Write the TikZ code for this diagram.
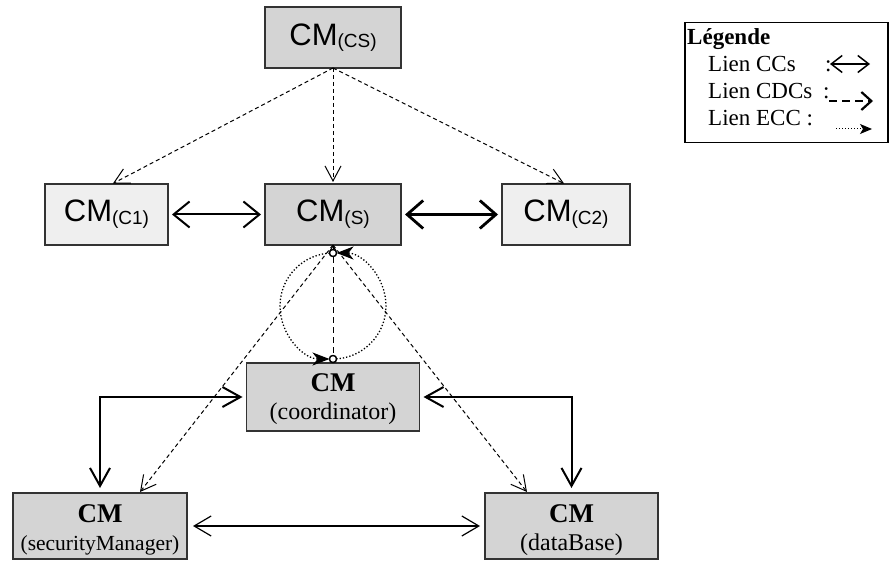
\documentclass[tikz,border=0pt]{standalone}
\usepackage{fontspec}
\setmainfont{Liberation Serif}
\newfontfamily\arialf{Liberation Sans}
\usetikzlibrary{arrows.meta,calc}
\definecolor{boxdark}{HTML}{D4D4D4}
\definecolor{boxlight}{HTML}{EFEFEF}
\definecolor{edgecol}{HTML}{333333}
\begin{document}
\begin{tikzpicture}[x=1pt,y=-1pt,
  box/.style={draw=edgecol, line width=1.2pt, rectangle, inner sep=0pt, outer sep=0pt},
  darkbox/.style={box, fill=boxdark},
  lightbox/.style={box, fill=boxlight},
  arialtxt/.style={font=\arialf\fontsize{31}{36}\selectfont},
  boldcm/.style={font=\fontsize{27}{28}\selectfont\bfseries, anchor=base, inner sep=0pt},
  partxt/.style={font=\fontsize{24}{28}\selectfont, anchor=base, inner sep=0pt},
  legtxt/.style={font=\fontsize{23}{26}\selectfont, anchor=base west, inner sep=0pt},
  cclink/.style={line width=2pt, {Straight Barb[length=16pt,width=26pt]}-{Straight Barb[length=16pt,width=26pt]}},
  cclinkthick/.style={line width=2.8pt, {Straight Barb[length=16pt,width=28pt]}-{Straight Barb[length=16pt,width=28pt]}},
  looplink/.style={line width=2pt, {Straight Barb[length=18pt,width=20pt]}-{Straight Barb[length=18pt,width=20pt]}},
  thinlink/.style={line width=1.2pt, {Straight Barb[length=17pt,width=20pt]}-{Straight Barb[length=17pt,width=20pt]}},
  cdclink/.style={line width=1pt, dash pattern=on 4pt off 3pt, -{Straight Barb[length=15pt,width=16pt]}},
  ecclink/.style={line width=1.3pt, dotted, -{Stealth[length=17pt,width=13pt,inset=5pt]}},
  eccend/.style={circle, draw=black, fill=white, line width=1.3pt, inner sep=0pt, minimum size=7pt}
]
\useasboundingbox (0,0) rectangle (895,561);

% boxes
\node[darkbox, arialtxt, minimum width=136pt, minimum height=61pt] (CS) at (333,37.5)
  {CM\raisebox{-2pt}{\fontsize{19}{19}\selectfont(CS)}};
\node[lightbox, arialtxt, minimum width=123pt, minimum height=61pt] (C1) at (106.5,214.5)
  {CM\raisebox{-3pt}{\fontsize{19}{19}\selectfont(C1)}};
\node[darkbox, arialtxt, minimum width=136pt, minimum height=61pt] (S) at (333,214.5)
  {CM\raisebox{-3pt}{\fontsize{19}{19}\selectfont(S)}};
\node[lightbox, arialtxt, minimum width=128pt, minimum height=61pt] (C2) at (566,214.5)
  {CM\raisebox{-3pt}{\fontsize{19}{19}\selectfont(C2)}};

\node[darkbox, minimum width=173pt, minimum height=68pt] (coord) at (333,397) {};
\node[boldcm] (coordA) at (333,392) {CM};
\node[partxt] (coordB) at (333,420) {(coordinator)};

\node[darkbox, minimum width=174pt, minimum height=66pt] (SM) at (100,526) {};
\node[boldcm] (SMA) at (100,522) {CM};
\node[partxt, font=\fontsize{21.5}{28}\selectfont] (SMB) at (100,550) {(securityManager)};

\node[darkbox, minimum width=173pt, minimum height=66pt] (DB) at (571.5,526) {};
\node[boldcm] (DBA) at (571.5,522) {CM};
\node[partxt] (DBB) at (571.5,550) {(dataBase)};

% coordinates for connector ends
\coordinate (c1t) at (112,184);
\coordinate (c2t) at (565,184);
\coordinate (sb) at (333,245);
\coordinate (smt) at (140,492);
\coordinate (dbt) at (527,492);

% CDC links from CS
\draw[cdclink, shorten >=1pt] (CS.south) -- (c1t);
\draw[cdclink, shorten >=2pt] (CS.south) -- (S.north);
\draw[cdclink, shorten >=1pt] (CS.south) -- (c2t);

% CC links top row
\draw[cclink, shorten <=4pt, shorten >=4pt] (C1.east) -- (S.west);
\draw[cclinkthick, shorten <=4pt, shorten >=4pt] (S.east) -- (C2.west);

% CDC links from S
\draw[cdclink] (sb) -- (smt);
\draw[cdclink] (sb) -- (dbt);
\draw[line width=1pt, dash pattern=on 6pt off 4pt, -{Straight Barb[length=5pt,width=6pt]}] (coord.north) -- (S.south);

% ECC loop
\node[eccend] (eccT) at (333,253) {};
\node[eccend] (eccB) at (333,359) {};
\draw[ecclink, shorten >=3.5pt] (eccB.center) arc[start angle=-90, end angle=90, radius=53pt];
\draw[ecclink, shorten >=3.5pt] (eccT.center) arc[start angle=90, end angle=270, radius=53pt];
\node[eccend] at (eccT) {};
\node[eccend] at (eccB) {};

% CC links around coordinator
\draw[looplink, shorten <=4pt, shorten >=5pt] (coord.west) -| (SM.north);
\draw[looplink, shorten <=4pt, shorten >=5pt] (coord.east) -| (DB.north);
\draw[thinlink, shorten <=6pt, shorten >=5pt] (SM.east) -- (DB.west);

% legend
\node[draw=black, line width=1.6pt, rectangle, inner sep=0pt, minimum width=203pt, minimum height=120pt] (leg) at (786.5,82.5) {};
\node[legtxt, font=\fontsize{23}{26}\selectfont\bfseries] (legT) at (687,45) {Légende};
\node[legtxt] (l1) at (708,72) {Lien CCs};
\node[legtxt] (l1c) at (825,72) {:};
\node[legtxt] (l2) at (708,99) {Lien CDCs};
\node[legtxt] (l2c) at (823,99) {:};
\node[legtxt] (l3) at (708,126) {Lien ECC :};
\coordinate (a1s) at (830,64);
\coordinate (a1e) at (870,64);
\coordinate (a2s) at (829,101);
\coordinate (a2e) at (873,101);
\coordinate (a3s) at (836,129);
\coordinate (a3e) at (872,129);
\draw[line width=1.5pt, {Straight Barb[length=11pt,width=17pt]}-{Straight Barb[length=11pt,width=17pt]}] (a1s) -- (a1e);
\draw[line width=2.2pt, dash pattern=on 8pt off 5pt, -{Straight Barb[length=10pt,width=18pt]}] (a2s) -- (a2e);
\draw[line width=1pt, dotted, -{Stealth[length=12pt,width=10pt,inset=3pt]}] (a3s) -- (a3e);
\end{tikzpicture}
\end{document}
